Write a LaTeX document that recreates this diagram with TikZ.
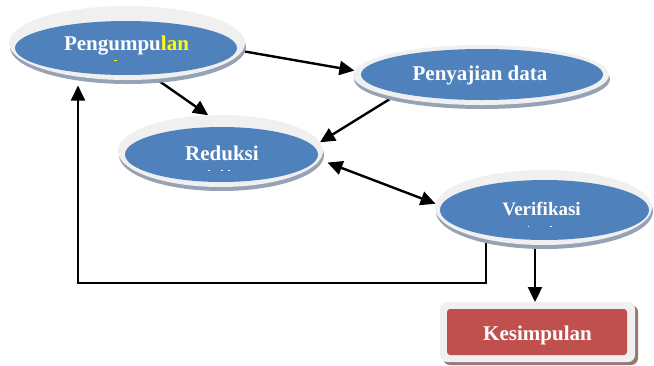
\documentclass[tikz,border=0pt]{standalone}
\usepackage{fontspec}
\setmainfont{Liberation Serif}
\usetikzlibrary{shapes.geometric,shadows,backgrounds,arrows.meta}
\definecolor{ringc}{RGB}{240,240,240}
\definecolor{bluec}{RGB}{79,129,189}
\definecolor{shadc}{RGB}{150,162,182}
\definecolor{redc}{RGB}{192,80,77}
\definecolor{kshad}{RGB}{150,120,120}
\definecolor{ylw}{RGB}{255,255,0}
\begin{document}
\begin{tikzpicture}[x=1pt,y=-1pt,
 outer/.style={ellipse, fill=ringc, inner sep=0pt, outer sep=0pt, draw=none,
   drop shadow={shadow xshift=1pt,shadow yshift=-4pt,fill=shadc,opacity=1}},
 inner/.style={ellipse, fill=bluec, inner sep=0pt, outer sep=0pt},
 lbl/.style={font=\fontsize{21}{24}\selectfont\bfseries, text=white, anchor=base, inner sep=0pt},
 arr/.style={line width=2.4pt, -{Triangle[length=15pt,width=14pt]}},
 dbl/.style={line width=2.4pt, {Triangle[length=15pt,width=14pt]}-{Triangle[length=15pt,width=14pt]}},
]
\useasboundingbox (0,0) rectangle (654,365);

% Pengumpulan
\node[outer, minimum width=236pt, minimum height=74pt] (peng) at (127,43) {};
\node[inner, minimum width=222pt, minimum height=54pt] (pengIn) at (126,48) {};
\node[lbl] (pengT) at (126.5,50) {Pengumpu\textcolor{ylw}{lan}};
\fill[ylw] (114,60) rectangle (117,61);

% Penyajian data
\node[outer, minimum width=256pt, minimum height=60pt] (peny) at (481,75) {};
\node[inner, minimum width=242pt, minimum height=51pt] (penyIn) at (482,74.5) {};
\node[lbl] (penyT) at (480,80) {Penyajian data};

% Reduksi
\node[outer, minimum width=205pt, minimum height=72pt] (red) at (220.5,151) {};
\node[inner, minimum width=193pt, minimum height=55pt] (redIn) at (221.5,154.5) {};
\node[lbl] (redT) at (222,160) {Reduksi};
\fill[white] (207.5,170) rectangle (209.5,171);
\fill[white] (220.5,170) rectangle (222.5,171);
\fill[white] (228,170) rectangle (229.5,171);

% Verifikasi
\node[outer, minimum width=217pt, minimum height=75pt] (ver) at (543.5,207.5) {};
\node[inner, minimum width=209pt, minimum height=60pt] (verIn) at (544.5,210) {};
\node[lbl, font=\fontsize{19}{22}\selectfont\bfseries] (verT) at (541.5,215) {Verifikasi};
\fill[white] (527.5,225.5) rectangle (529,226.5);
\fill[white] (550,225.5) rectangle (551.5,226.5);

% Kesimpulan
\node[rectangle, rounded corners=7pt, fill=ringc, minimum width=195pt, minimum height=60pt,
  inner sep=0pt, outer sep=0pt,
  drop shadow={shadow xshift=3pt,shadow yshift=-3pt,fill=kshad,opacity=1}] (kes) at (537.5,332) {};
\node[rectangle, rounded corners=3pt, fill=redc, minimum width=180pt, minimum height=46pt,
  inner sep=0pt, outer sep=0pt] (kesIn) at (537,332) {};
\node[lbl] (kesT) at (537.5,340) {Kesimpulan};

\coordinate (fbl) at (78,283);

\begin{pgfonlayer}{background}
\draw[arr] (peng.-4) -- (peny.178.7);
\draw[arr] (peng.-51) -- (red.109.7);
\draw[arr] (peny.194.5) -- (red.5.4);
\draw[dbl, shorten <=8pt] (red.-5.9) -- (ver.178.7);
\draw[arr] ([xshift=-2.5pt]kes.north |- ver.south) -- ([xshift=-2.5pt]kes.north);
\draw[arr, shorten >=9pt] (ver.209.5) -- (ver.209.5 |- fbl) -- (fbl) -- (fbl |- peng.214.5);
\end{pgfonlayer}
\end{tikzpicture}
\end{document}
